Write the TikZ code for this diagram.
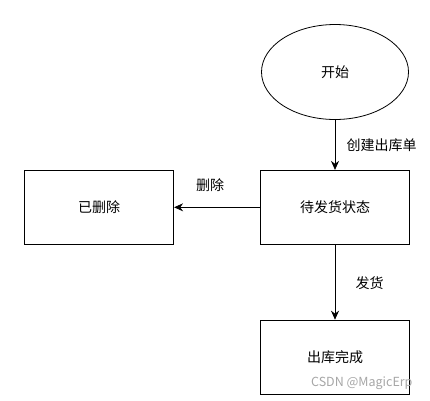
\documentclass[tikz,border=0pt]{standalone}
\usepackage{fontspec}
\setmainfont{Noto Sans CJK SC}
\usepackage{tikz}
\usetikzlibrary{arrows.meta,positioning,shapes.geometric}

\tikzset{
  statebox/.style={draw, line width=0.8pt, minimum width=149pt, minimum height=74pt, inner sep=0pt, font=\fontsize{14}{16}\selectfont},
  startnode/.style={draw, ellipse, line width=0.8pt, minimum width=147pt, minimum height=95pt, inner sep=0pt, font=\fontsize{14}{16}\selectfont},
  edgelabel/.style={font=\fontsize{14}{16}\selectfont}
}

\begin{document}
\begin{tikzpicture}[>={Stealth[length=9pt,width=8pt]}, x=1pt, y=1pt]
        \useasboundingbox (0,0) rectangle (430,-400);
        \node[startnode] (Start) at (335,-72) {开始};
        \node[statebox] (Wait) [below=50pt of Start] {待发货状态};
        \node[statebox] (Deleted) [left=86pt of Wait] {已删除};
        \node[statebox] (Done) [below=75pt of Wait] {出库完成};

        % transitions
        \draw[->, line width=0.8pt] (Start) -- node[edgelabel, right=8pt] {创建出库单} (Wait);
        \draw[->, line width=0.8pt] (Wait) -- node[edgelabel, above=12pt, xshift=-7pt] {删除} (Deleted);
        \draw[->, line width=0.8pt] (Wait) -- node[edgelabel, right=17pt, yshift=-1pt] {发货} (Done);

        % watermark
        \node[font=\fontsize{12.5}{14}\selectfont, text=gray!70, anchor=east] (Mark) at (416,-383) {CSDN @MagicErp};
\end{tikzpicture}
\end{document}
